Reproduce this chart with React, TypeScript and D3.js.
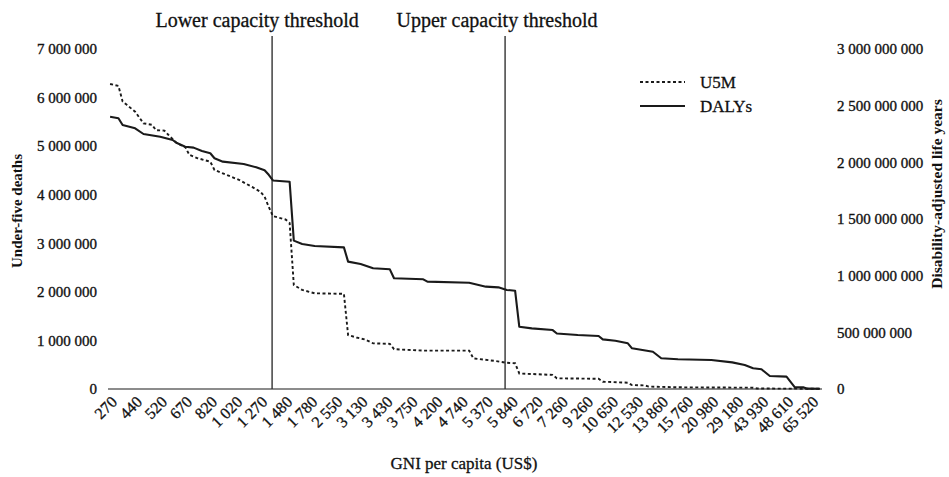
// @ts-nocheck
import React from "react";
import * as d3 from "d3";

// GNI per capita labels shown on the category axis (every 6th country)
const gniLabels = [
  "270", "440", "520", "670", "820", "1 020", "1 270", "1 480", "1 780", "2 550",
  "3 130", "3 430", "3 750", "4 200", "4 740", "5 370", "5 840", "6 720", "7 260",
  "9 260", "10 650", "12 530", "13 860", "15 760", "20 980", "29 180", "43 930",
  "48 610", "65 520",
];
const categoryCount = 171;
const labelEvery = 6;

// capacity thresholds, as positions on the category axis
const lowerThreshold = 38.8;
const upperThreshold = 94.6;

// under-five deaths remaining above each GNI level: [category index, deaths]
const u5mPoints = [
  [0, 6280000], [2, 6240000], [3, 5920000], [4, 5850000], [6, 5710000],
  [8, 5470000], [10, 5440000], [11, 5330000], [13, 5320000], [14, 5230000],
  [16, 5060000], [18, 4980000], [19, 4820000], [21, 4750000], [24, 4680000],
  [25, 4510000], [27, 4440000], [31, 4300000], [34, 4160000], [36, 4060000],
  [37, 3960000], [38, 3750000], [39, 3560000], [42, 3490000], [43, 3420000],
  [44, 2140000], [46, 2040000], [49, 1970000], [56, 1960000], [57, 1110000],
  [59, 1060000], [61, 1020000], [63, 940000], [67, 930000], [68, 820000],
  [75, 790000], [86, 790000], [87, 630000], [92, 580000], [95, 540000],
  [97, 530000], [98, 320000], [106, 290000], [107, 220000], [117, 210000],
  [118, 150000], [124, 130000], [125, 80000], [128, 75000], [129, 50000],
  [136, 35000], [154, 27000], [155, 10000], [170, 5000],
];

// DALYs remaining above each GNI level: [category index, DALYs]
const dalyPoints = [
  [0, 2403000000], [2, 2389000000], [3, 2330000000], [6, 2300000000],
  [8, 2250000000], [12, 2226000000], [15, 2197000000], [16, 2170000000],
  [18, 2138000000], [20, 2130000000], [22, 2100000000], [24, 2080000000],
  [25, 2036000000], [27, 2006000000], [32, 1985000000], [35, 1956000000],
  [37, 1930000000], [38, 1890000000], [39, 1840000000], [43, 1829000000],
  [44, 1309000000], [46, 1280000000], [49, 1262000000], [56, 1250000000],
  [57, 1124000000], [60, 1103000000], [63, 1065000000], [67, 1056000000],
  [68, 977000000], [75, 968000000], [76, 947000000], [86, 938000000],
  [90, 903000000], [93, 897000000], [95, 874000000], [97, 867000000],
  [98, 550000000], [101, 535000000], [106, 520000000], [107, 490000000],
  [112, 476000000], [117, 468000000], [118, 438000000], [121, 426000000],
  [124, 403000000], [125, 359000000], [130, 329000000], [132, 271000000],
  [136, 262000000], [144, 256000000], [149, 235000000], [152, 212000000],
  [154, 183000000], [156, 174000000], [158, 115000000], [162, 109000000],
  [164, 15000000], [166, 15000000], [167, 3000000], [170, 2000000],
];

const leftTicks = [0, 1000000, 2000000, 3000000, 4000000, 5000000, 6000000, 7000000];
const rightTicks = [0, 500000000, 1000000000, 1500000000, 2000000000, 2500000000, 3000000000];

const FONT = "'Liberation Serif', 'Times New Roman', serif";

const App = () => {
  const svgRef = React.useRef(null);
  const width = 949;
  const height = 477;
  const margin = { top: 49, right: 127, bottom: 88, left: 108 };

  React.useEffect(() => {
    const innerW = width - margin.left - margin.right;
    const innerH = height - margin.top - margin.bottom;

    const xScale = d3.scaleLinear()
      .domain([-0.5, categoryCount - 0.5])
      .range([0, innerW]);
    const yLeft = d3.scaleLinear().domain([0, 7000000]).range([innerH, 0]);
    const yRight = d3.scaleLinear().domain([0, 3000000000]).range([innerH, 0]);

    const fmt = d3.formatLocale({ decimal: ".", thousands: " ", grouping: [3], currency: ["$", ""] }).format(",");

    const svgEl = d3.select(svgRef.current);
    svgEl.selectAll("*").remove();
    const svg = svgEl.append("g")
      .attr("transform", `translate(${margin.left},${margin.top})`);

    // left axis
    const leftAxis = svg.append("g")
      .call(d3.axisLeft(yLeft).tickValues(leftTicks).tickSize(0).tickPadding(11).tickFormat(fmt));
    leftAxis.select(".domain").remove();
    leftAxis.selectAll("text")
      .attr("font-family", FONT)
      .attr("font-size", 15)
      .attr("fill", "#111")
      .attr("stroke", "#111")
      .attr("stroke-width", 0.35);

    // right axis
    const rightAxis = svg.append("g")
      .attr("transform", `translate(${innerW},0)`)
      .call(d3.axisRight(yRight).tickValues(rightTicks).tickSize(0).tickPadding(15).tickFormat(fmt));
    rightAxis.select(".domain").remove();
    rightAxis.selectAll("text")
      .attr("font-family", FONT)
      .attr("font-size", 15)
      .attr("fill", "#111")
      .attr("stroke", "#111")
      .attr("stroke-width", 0.35);

    // baseline
    svg.append("line")
      .attr("x1", 0).attr("x2", innerW)
      .attr("y1", innerH).attr("y2", innerH)
      .attr("stroke", "#666")
      .attr("stroke-width", 1.4);

    // category labels
    svg.append("g")
      .selectAll("text")
      .data(gniLabels)
      .enter()
      .append("text")
      .attr("transform", (d, i) => `translate(${xScale(i * labelEvery) + 4},${innerH + 10}) rotate(-45)`)
      .attr("text-anchor", "end")
      .attr("dy", "0.35em")
      .attr("font-family", FONT)
      .attr("font-size", 16)
      .attr("fill", "#111")
      .attr("stroke", "#111")
      .attr("stroke-width", 0.3)
      .text((d) => d);

    // threshold lines
    const thresholds = [
      { pos: lowerThreshold, label: "Lower capacity threshold", shift: -15 },
      { pos: upperThreshold, label: "Upper capacity threshold", shift: -8 },
    ];
    svg.append("g")
      .selectAll("line")
      .data(thresholds)
      .enter()
      .append("line")
      .attr("x1", (d) => xScale(d.pos))
      .attr("x2", (d) => xScale(d.pos))
      .attr("y1", -13)
      .attr("y2", innerH)
      .attr("stroke", "#333")
      .attr("stroke-width", 1.4);
    svg.append("g")
      .selectAll("text")
      .data(thresholds)
      .enter()
      .append("text")
      .attr("x", (d) => xScale(d.pos) + d.shift)
      .attr("y", -22)
      .attr("text-anchor", "middle")
      .attr("font-family", FONT)
      .attr("font-size", 20)
      .attr("fill", "#111")
      .attr("stroke", "#111")
      .attr("stroke-width", 0.3)
      .text((d) => d.label);

    // lines
    const u5mLine = d3.line()
      .x((d) => xScale(d[0]))
      .y((d) => yLeft(d[1]));
    const dalyLine = d3.line()
      .x((d) => xScale(d[0]))
      .y((d) => yRight(d[1]));

    svg.append("path")
      .attr("fill", "none")
      .attr("stroke", "#1a1a1a")
      .attr("stroke-width", 2.1)
      .attr("stroke-linejoin", "round")
      .attr("d", dalyLine(dalyPoints));
    svg.append("path")
      .attr("fill", "none")
      .attr("stroke", "#1a1a1a")
      .attr("stroke-width", 1.9)
      .attr("stroke-dasharray", "3,2.5")
      .attr("d", u5mLine(u5mPoints));

    // legend
    const legend = svg.append("g").attr("transform", `translate(${640 - margin.left},${82 - margin.top})`);
    const legendItems = [
      { name: "U5M", dash: "3,2.5", width: 1.9 },
      { name: "DALYs", dash: null, width: 2.1 },
    ];
    legendItems.forEach((item, i) => {
      const g = legend.append("g").attr("transform", `translate(0,${i * 24})`);
      g.append("line")
        .attr("x1", 0).attr("x2", 45)
        .attr("stroke", "#1a1a1a")
        .attr("stroke-width", item.width)
        .attr("stroke-dasharray", item.dash);
      g.append("text")
        .attr("x", 60)
        .attr("dy", "0.35em")
        .attr("font-family", FONT)
        .attr("font-size", 17)
        .attr("fill", "#111")
        .attr("stroke", "#111")
        .attr("stroke-width", 0.3)
        .text(item.name);
    });

    // axis titles
    svg.append("text")
      .attr("transform", `translate(${17 - margin.left},${211 - margin.top}) rotate(-90)`)
      .attr("text-anchor", "middle")
      .attr("dy", "0.35em")
      .attr("font-family", FONT)
      .attr("font-size", 15)
      .attr("font-weight", "bold")
      .attr("fill", "#111")
      .text("Under-five deaths");
    svg.append("text")
      .attr("transform", `translate(${937 - margin.left},${194 - margin.top}) rotate(-90)`)
      .attr("text-anchor", "middle")
      .attr("dy", "0.35em")
      .attr("font-family", FONT)
      .attr("font-size", 15.5)
      .attr("font-weight", "bold")
      .attr("fill", "#111")
      .text("Disability-adjusted life years");
    svg.append("text")
      .attr("x", 464 - margin.left)
      .attr("y", 463 - margin.top)
      .attr("text-anchor", "middle")
      .attr("dy", "0.35em")
      .attr("font-family", FONT)
      .attr("font-size", 17)
      .attr("fill", "#111")
      .attr("stroke", "#111")
      .attr("stroke-width", 0.3)
      .text("GNI per capita (US$)");
  }, []);

  return (
    <svg
      ref={svgRef}
      width={width}
      height={height}
      style={{ position: "absolute", left: 0, top: 0, background: "#fff" }}
    />
  );
};

export default App;
